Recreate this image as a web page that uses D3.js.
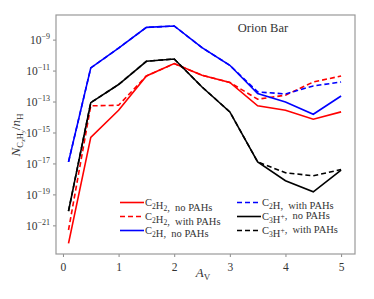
<!DOCTYPE html>
<html><head><meta charset="utf-8">
<script src="https://cdn.jsdelivr.net/npm/d3@7"></script>
<style>body{margin:0;background:#fff}svg{display:block}</style>
</head><body>
<svg id="c" width="374" height="299"></svg>
<script>
const av = [0.1,0.5,1,1.5,2,2.5,3,3.5,4,4.5,5];
const c2h2NoPAH   = [6.92e-23,4.79e-16,2.75e-14,4.47e-12,2.82e-11,5.01e-12,1.70e-12,5.25e-14,2.75e-14,7.24e-15,2.14e-14];
const c2h2WithPAH = [5.01e-22,5.25e-14,5.75e-14,4.47e-12,2.82e-11,5.01e-12,1.70e-12,1.41e-13,2.57e-13,1.82e-12,4.47e-12];
const c2hNoPAH    = [1.26e-17,1.48e-11,2.82e-10,6.17e-9,7.59e-9,3.02e-10,2.19e-11,3.31e-13,9.33e-14,1.51e-14,2.29e-13];
const c2hWithPAH  = [1.26e-17,1.48e-11,2.82e-10,6.17e-9,7.59e-9,3.02e-10,2.19e-11,4.17e-13,3.09e-13,1.02e-12,1.82e-12];
const c3hNoPAH    = [8.32e-21,8.51e-14,1.26e-12,3.98e-11,5.62e-11,8.71e-13,2.14e-14,1.26e-17,7.59e-19,1.48e-19,3.72e-18];
const c3hWithPAH  = [8.32e-21,8.51e-14,1.26e-12,3.98e-11,5.62e-11,8.71e-13,2.14e-14,1.26e-17,2.51e-18,1.58e-18,4.07e-18];
const xTicks = [0,1,2,3,4,5];
const yTickExps = [-9,-11,-13,-15,-17,-19,-21];

const series = [
  {mol:["C",["2"],"H",["2"]], tag:"no PAHs", vals:c2h2NoPAH, color:"#ff0000", dash:null},
  {mol:["C",["2"],"H",["2"]], tag:"with PAHs", vals:c2h2WithPAH, color:"#ff0000", dash:"5,3"},
  {mol:["C",["2"],"H"], tag:"no PAHs", vals:c2hNoPAH, color:"#0000ff", dash:null},
  {mol:["C",["2"],"H"], tag:"with PAHs", vals:c2hWithPAH, color:"#0000ff", dash:"5,3"},
  {mol:["C",["3"],"H",["+","sup"]], tag:"no PAHs", vals:c3hNoPAH, color:"#000000", dash:null},
  {mol:["C",["3"],"H",["+","sup"]], tag:"with PAHs", vals:c3hWithPAH, color:"#000000", dash:"5,3"}
];

const L=56,R=355,T=15,B=254;
const FONT="'Liberation Serif','DejaVu Serif',serif";
const svg=d3.select("#c");
const x=d3.scaleLinear().domain([-0.125,5.25]).range([L,R]);
const y=d3.scaleLog().domain([Math.pow(10,-22.85),Math.pow(10,-7.41)]).range([B,T]);

// x axis
const gx=svg.append("g").attr("transform",`translate(0,${B})`)
  .call(d3.axisBottom(x).tickValues(xTicks).tickSize(3).tickFormat(d3.format("d")));
gx.select(".domain").remove();
gx.selectAll("line").attr("stroke","#888");
gx.selectAll("text").attr("font-family",FONT).attr("font-size",11.5).attr("fill","#333").attr("dy","0.95em");

// y axis
const gy=svg.append("g").attr("transform",`translate(${L},0)`)
  .call(d3.axisLeft(y).tickValues(yTickExps.map(e=>Math.pow(10,e))).tickSize(3).tickFormat(""));
gy.select(".domain").remove();
gy.selectAll("line").attr("stroke","#888");
gy.selectAll(".tick").each(function(d){
  const e=Math.round(Math.log10(d));
  const t=d3.select(this).append("text").attr("x",-6).attr("y",4)
    .attr("text-anchor","end").attr("font-family",FONT).attr("fill","#333");
  t.append("tspan").attr("font-size",11.5).text("10");
  t.append("tspan").attr("font-size",8).attr("dy",-5).text("\u2212"+Math.abs(e));
});

// lines
const line=d3.line().x((d,i)=>x(av[i])).y(d=>y(d));
const clip=svg.append("clipPath").attr("id","pc").append("rect")
  .attr("x",L).attr("y",T).attr("width",R-L).attr("height",B-T);
series.forEach(s=>{
  svg.append("path").datum(s.vals).attr("d",line).attr("fill","none")
    .attr("stroke",s.color).attr("stroke-width",1.6)
    .attr("stroke-dasharray",s.dash).attr("clip-path","url(#pc)");
});

// frame
svg.append("rect").attr("x",L).attr("y",T).attr("width",R-L).attr("height",B-T)
  .attr("fill","none").attr("stroke","#999").attr("stroke-width",1.2);

// title
svg.append("text").attr("x",263).attr("y",32).attr("text-anchor","middle")
  .attr("font-family",FONT).attr("font-size",12.5).attr("fill","#333").text("Orion Bar");

// legend
function molText(t,mol,tag,fs){
  mol.forEach(p=>{
    if(typeof p==="string"){ t.append("tspan").attr("font-size",fs).text(p); }
    else if(p[1]==="sup"){
      t.append("tspan").attr("font-size",fs*0.72).attr("dy",-4).text(p[0]);
      t.append("tspan").attr("font-size",fs).attr("dy",4).text("");
    } else {
      t.append("tspan").attr("font-size",fs*0.72).attr("dy",2.5).text(p[0]);
      t.append("tspan").attr("font-size",fs).attr("dy",-2.5).text("");
    }
  });
  t.append("tspan").attr("font-size",fs).text(",\u2002"+tag);
}
const legPos=[[120,202.5],[120,216.5],[120,230.5],[237,202.5],[237,216.5],[237,230.5]];
series.forEach((s,i)=>{
  const [lx,ly]=legPos[i];
  svg.append("line").attr("x1",lx).attr("x2",lx+24).attr("y1",ly).attr("y2",ly)
    .attr("stroke",s.color).attr("stroke-width",1.6).attr("stroke-dasharray",s.dash);
  const t=svg.append("text").attr("x",lx+25).attr("y",ly+3.5)
    .attr("font-family",FONT).attr("fill","#333");
  molText(t,s.mol,s.tag,10.5);
});

// x label
const xl=svg.append("text").attr("x",203).attr("y",277).attr("text-anchor","middle")
  .attr("font-family",FONT).attr("fill","#333");
xl.append("tspan").attr("font-size",13).attr("font-style","italic").text("A");
xl.append("tspan").attr("font-size",9).attr("dy",3).text("V");

// y label
const yl=svg.append("text").attr("transform","translate(20,135) rotate(-90)")
  .attr("text-anchor","middle").attr("font-family",FONT).attr("fill","#333");
yl.append("tspan").attr("font-size",13).attr("font-style","italic").text("N");
yl.append("tspan").attr("font-size",8.5).attr("dy",3).text("C");
yl.append("tspan").attr("font-size",6.5).attr("font-style","italic").attr("dy",1.5).text("x");
yl.append("tspan").attr("font-size",8.5).attr("dy",-1.5).text("H");
yl.append("tspan").attr("font-size",6.5).attr("font-style","italic").attr("dy",1.5).text("y");
yl.append("tspan").attr("font-size",13).attr("dy",-4.5).text("/");
yl.append("tspan").attr("font-size",13).attr("font-style","italic").text("n");
yl.append("tspan").attr("font-size",9).attr("dy",3).text("H");
</script>
</body></html>
